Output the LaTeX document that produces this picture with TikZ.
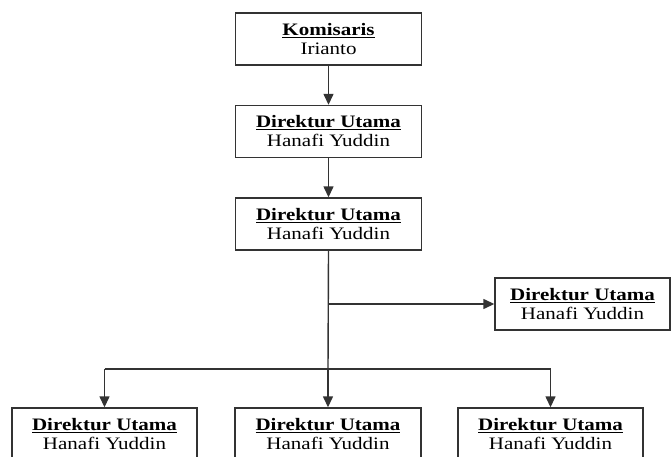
\documentclass[tikz,border=0pt]{standalone}
\usepackage{fontspec}
\setmainfont{Liberation Serif}[FakeStretch=1.2]
\usetikzlibrary{arrows.meta}
\begin{document}
\begin{tikzpicture}[x=1pt,y=-1pt,
  box/.style={draw=black!80, line width=1.4pt, fill=white, minimum width=186pt, minimum height=52pt,
    inner sep=0pt, align=center, font=\fontsize{17.5}{19}\selectfont},
  conn/.style={draw=black!80, line width=1.4pt},
  arr/.style={conn, -{Triangle[length=11pt,width=10pt]}}]
\clip (0,0) rectangle (671,457);
\fill[white] (0,0) rectangle (671,457);
\node[box] (k) at (328.5,39) {\textbf{\underline{Komisaris}}\\Irianto};
\node[box] (d1) at (328.5,131.5) {\textbf{\underline{Direktur Utama}}\\Hanafi Yuddin};
\node[box] (d2) at (328.5,224) {\textbf{\underline{Direktur Utama}}\\Hanafi Yuddin};
\node[box, minimum width=175pt] (r) at (582.5,304) {\textbf{\underline{Direktur Utama}}\\Hanafi Yuddin};
\node[box, minimum width=185pt] (b1) at (104.5,434) {\textbf{\underline{Direktur Utama}}\\Hanafi Yuddin};
\node[box] (b2) at (328,434) {\textbf{\underline{Direktur Utama}}\\Hanafi Yuddin};
\node[box, minimum width=185pt] (b3) at (550.5,434) {\textbf{\underline{Direktur Utama}}\\Hanafi Yuddin};
\coordinate (bus) at (328,369);
\coordinate (busL) at (104.5,369);
\coordinate (busR) at (550.5,369);
\coordinate (tap) at (328,304);
\draw[arr] (k) -- (d1);
\draw[arr] (d1) -- (d2);
\draw[conn] (d2.south) -- (bus);
\draw[arr] (tap) -- (r.west);
\draw[arr] (bus) -- (b2.north);
\draw[conn] (busL) -- (busR);
\draw[arr] (busL) -- (b1.north);
\draw[arr] (busR) -- (b3.north);
\end{tikzpicture}
\end{document}
